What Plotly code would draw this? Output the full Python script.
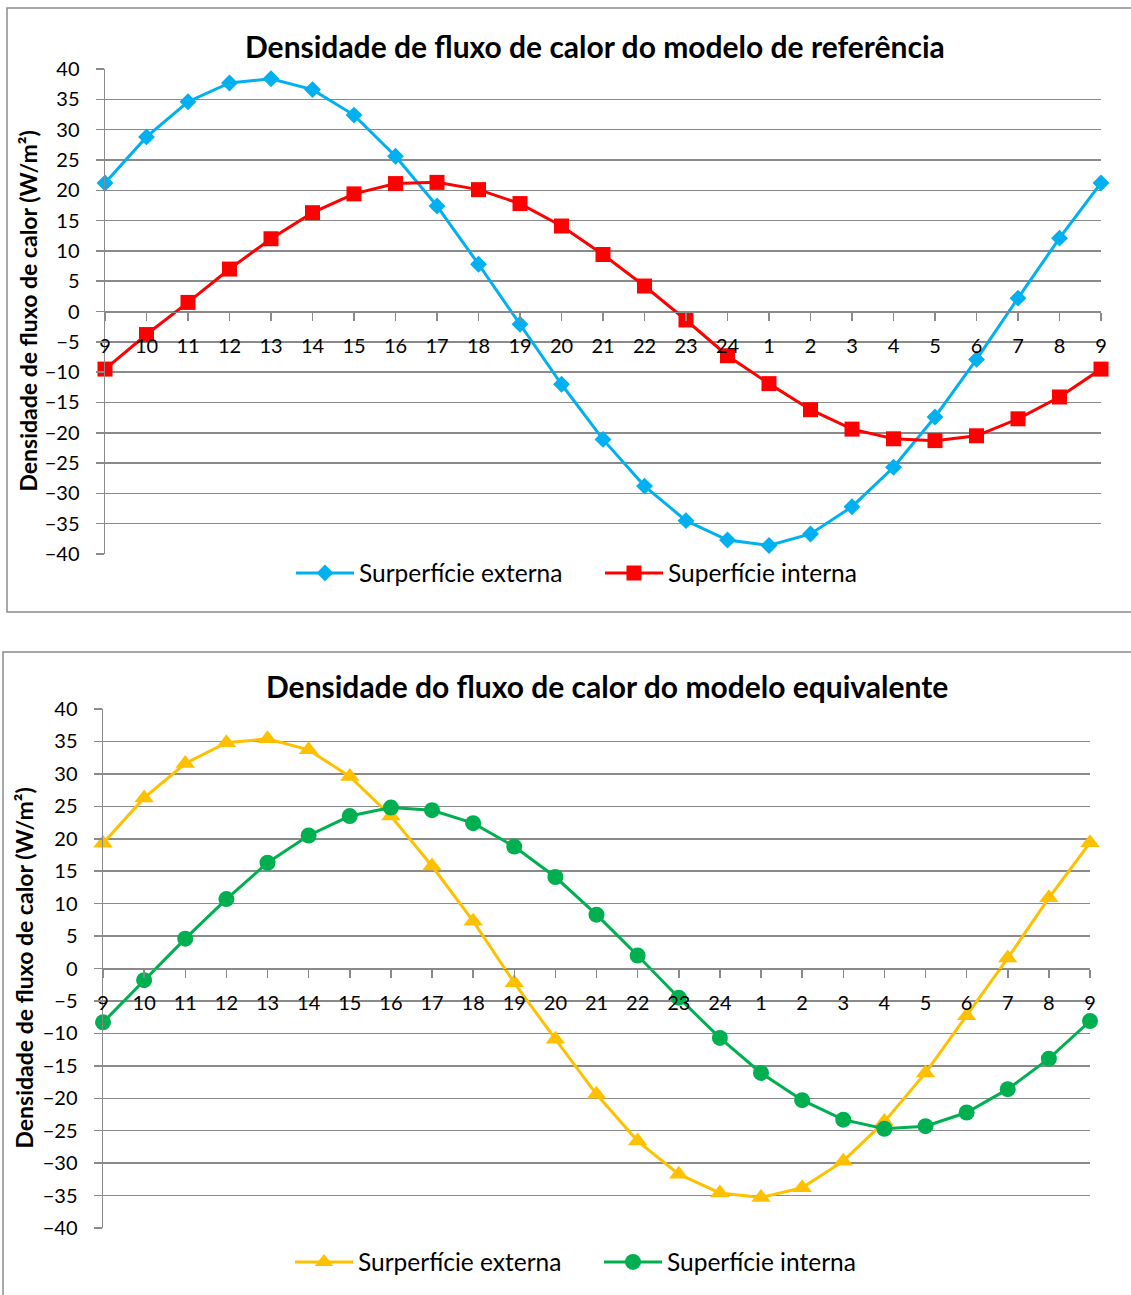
import plotly.graph_objects as go

# Hour labels along the horizontal axis (24 h cycle, 9h to 9h)
hours = ["9", "10", "11", "12", "13", "14", "15", "16", "17", "18", "19", "20",
         "21", "22", "23", "24", "1", "2", "3", "4", "5", "6", "7", "8", "9"]

# Reference model heat flux density (W/m²)
ref_externa = [21.2, 28.8, 34.6, 37.7, 38.4, 36.6, 32.4, 25.6, 17.4, 7.8, -2.1, -12.0,
               -21.1, -28.8, -34.5, -37.7, -38.6, -36.7, -32.2, -25.7, -17.4, -7.9, 2.2, 12.1, 21.2]
ref_interna = [-9.5, -3.8, 1.5, 7.0, 12.0, 16.3, 19.4, 21.1, 21.3, 20.1, 17.8, 14.1,
               9.4, 4.2, -1.4, -7.3, -11.9, -16.2, -19.4, -21.0, -21.3, -20.5, -17.7, -14.1, -9.5]

# Equivalent model heat flux density (W/m²)
eq_externa = [19.3, 26.3, 31.6, 34.8, 35.4, 33.7, 29.6, 23.5, 15.8, 7.3, -2.2, -10.9,
              -19.4, -26.6, -31.7, -34.6, -35.3, -33.8, -29.7, -23.6, -16.1, -7.3, 1.6, 10.9, 19.4]
eq_interna = [-8.3, -1.8, 4.6, 10.7, 16.3, 20.5, 23.5, 24.8, 24.4, 22.4, 18.8, 14.1,
              8.3, 2.0, -4.5, -10.7, -16.1, -20.3, -23.3, -24.7, -24.3, -22.2, -18.6, -13.9, -8.1]

y_ticks = list(range(-40, 45, 5))

W, H = 1131, 1295
FONT = "Lato"
GRID = "#8a8a8a"


def px_x(p):
    return p / W


def px_y(p):
    return 1 - p / H


xpos = list(range(len(hours)))

fig = go.Figure()

# --- traces ---
fig.add_trace(go.Scatter(x=xpos, y=ref_externa, name="Surperfície externa", mode="lines+markers",
                         line=dict(color="#00B0F0", width=3),
                         marker=dict(symbol="diamond", size=13, color="#00B0F0"),
                         cliponaxis=False, xaxis="x", yaxis="y", legend="legend"))
fig.add_trace(go.Scatter(x=xpos, y=ref_interna, name="Superfície interna", mode="lines+markers",
                         line=dict(color="#FF0000", width=3),
                         marker=dict(symbol="square", size=15, color="#FF0000"),
                         cliponaxis=False, xaxis="x", yaxis="y", legend="legend"))
fig.add_trace(go.Scatter(x=xpos, y=eq_externa, name="Surperfície externa", mode="lines+markers",
                         line=dict(color="#FFC000", width=3),
                         marker=dict(symbol="triangle-up", size=17, color="#FFC000"),
                         cliponaxis=False, xaxis="x2", yaxis="y2", legend="legend2"))
fig.add_trace(go.Scatter(x=xpos, y=eq_interna, name="Superfície interna", mode="lines+markers",
                         line=dict(color="#00B050", width=3),
                         marker=dict(symbol="circle", size=16, color="#00B050"),
                         cliponaxis=False, xaxis="x2", yaxis="y2", legend="legend2"))

# --- axes ---
tick_font = dict(family=FONT, size=20, color="#000000")


def x_axis(dom, ydom):
    return dict(domain=dom, range=[0, len(hours) - 1], anchor="free",
                position=(ydom[0] + ydom[1]) / 2,
                tickmode="array", tickvals=xpos, ticktext=hours,
                showline=True, linecolor=GRID, linewidth=1.5,
                ticks="outside", ticklen=8, tickcolor=GRID, tickwidth=1.5,
                ticklabelstandoff=8, automargin=False,
                showgrid=False, zeroline=False, tickfont=tick_font, fixedrange=True)


def y_axis(dom, anchor):
    return dict(domain=dom, range=[-40, 40], anchor=anchor,
                tickmode="array", tickvals=y_ticks,
                showline=True, linecolor=GRID, linewidth=1.5,
                ticks="outside", ticklen=8, tickcolor=GRID, tickwidth=1.5,
                ticklabelstandoff=12, automargin=False,
                showgrid=True, gridcolor=GRID, gridwidth=1.5,
                zeroline=False, tickfont=tick_font, fixedrange=True)


y1dom = [px_y(554), px_y(69)]
y2dom = [px_y(1228), px_y(709)]
x1dom = [px_x(105), px_x(1101)]
x2dom = [px_x(103), px_x(1090)]

legend_common = dict(orientation="h", xanchor="left", yanchor="middle",
                     xref="paper", yref="paper", font=dict(family=FONT, size=24.5),
                     entrywidth=236, entrywidthmode="pixels", itemwidth=58,
                     bgcolor="rgba(0,0,0,0)", borderwidth=0)

layout = dict(
    width=W, height=H,
    margin=dict(l=0, r=0, t=0, b=0, pad=0, autoexpand=False),
    paper_bgcolor="white", plot_bgcolor="white",
    font=dict(family=FONT, color="#000000"),
    xaxis=x_axis(x1dom, y1dom), yaxis=y_axis(y1dom, "x"),
    xaxis2=x_axis(x2dom, y2dom), yaxis2=y_axis(y2dom, "x2"),
    legend=dict(legend_common, x=px_x(291), y=px_y(573)),
    legend2=dict(legend_common, x=px_x(290), y=px_y(1262)),
    showlegend=True,
    hovermode=False,
)
fig.update_layout(**layout)

# --- chart frames ---
fig.add_shape(type="rect", xref="paper", yref="paper",
              x0=px_x(7), x1=px_x(1145), y0=px_y(612), y1=px_y(8),
              line=dict(color="#8c8c8c", width=1.5), fillcolor="rgba(0,0,0,0)", layer="below")
fig.add_shape(type="rect", xref="paper", yref="paper",
              x0=px_x(3), x1=px_x(1145), y0=px_y(1310), y1=px_y(652),
              line=dict(color="#8c8c8c", width=1.5), fillcolor="rgba(0,0,0,0)", layer="below")

# --- titles ---
fig.add_annotation(text="<b>Densidade de fluxo de calor do modelo de referência</b>",
                   xref="paper", yref="paper", x=px_x(595), y=px_y(46),
                   xanchor="center", yanchor="middle", showarrow=False,
                   font=dict(family=FONT, size=30, color="#000000"))
fig.add_annotation(text="<b>Densidade do fluxo de calor do modelo equivalente</b>",
                   xref="paper", yref="paper", x=px_x(607), y=px_y(686),
                   xanchor="center", yanchor="middle", showarrow=False,
                   font=dict(family=FONT, size=30, color="#000000"))

# --- y axis titles ---
fig.add_annotation(text="<b>Densidade de fluxo de calor (W/m²)</b>",
                   xref="paper", yref="paper", x=px_x(27), y=(y1dom[0] + y1dom[1]) / 2,
                   xanchor="center", yanchor="middle", textangle=-90, showarrow=False,
                   font=dict(family=FONT, size=23, color="#000000"))
fig.add_annotation(text="<b>Densidade de fluxo de calor (W/m²)</b>",
                   xref="paper", yref="paper", x=px_x(23), y=(y2dom[0] + y2dom[1]) / 2,
                   xanchor="center", yanchor="middle", textangle=-90, showarrow=False,
                   font=dict(family=FONT, size=23, color="#000000"))

fig.write_html("out.html", config=dict(displayModeBar=False, staticPlot=True))
